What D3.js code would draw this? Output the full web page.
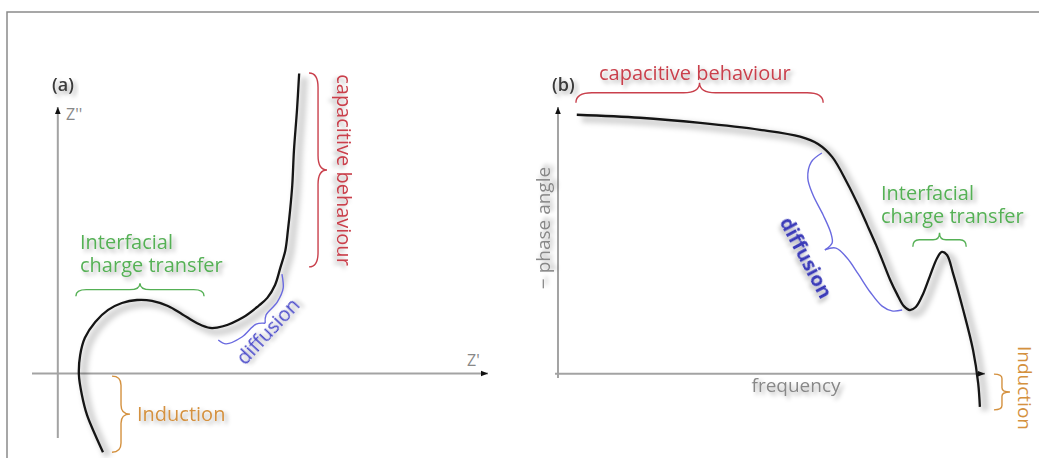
<!DOCTYPE html>
<html>
<head>
<meta charset="utf-8">
<script src="https://cdn.jsdelivr.net/npm/d3@7"></script>
<style>
body{margin:0;background:#fff;}
svg{display:block;}
text{font-family:"Open Sans",sans-serif;}
</style>
</head>
<body>
<script>
var W = 1039, H = 458;

// (a) Nyquist sketch, Z' against Z'' (arbitrary units)
var nyq_re = [1.05,0.87,0.68,0.56,0.49,0.52,0.63,0.87,1.17,1.49,1.84,2.19,2.56,2.89,3.24,3.54,3.84,4.31,4.66,4.87,5.05,5.17,5.29,5.35,5.40,5.45,5.49,5.56,5.61];
var nyq_im = [-1.83,-1.43,-0.97,-0.50,-0.03,0.43,0.83,1.20,1.48,1.64,1.71,1.69,1.57,1.38,1.17,1.06,1.10,1.31,1.57,1.76,2.06,2.45,2.87,3.34,3.80,4.38,5.20,6.13,6.98];

// (b) Bode sketch, frequency against -phase angle (arbitrary units)
var bode_f  = [0.44,1.92,3.33,4.73,5.67,6.09,6.42,6.77,7.03,7.24,7.45,7.61,7.78,7.94,8.10,8.24,8.38,8.53,8.71,8.88,8.99,9.11,9.25,9.49,9.72,9.84,9.88];
var bode_ph = [6.02,5.95,5.83,5.67,5.51,5.34,5.04,4.44,3.92,3.46,2.99,2.60,2.18,1.85,1.57,1.48,1.55,1.81,2.27,2.69,2.83,2.76,2.34,1.48,0.55,-0.22,-0.77];

// region braces, [start, end] in data units
var braceA_transfer   = [[0.42,1.80],[3.40,1.80]];
var braceA_capacitive = [[5.84,6.99],[5.84,2.48]];
var braceA_induction  = [[1.26,-0.06],[1.26,-1.83]];
var braceB_capacitive = [[0.42,6.30],[6.21,6.30]];
var braceB_transfer   = [[8.31,2.95],[9.56,2.95]];
var braceB_induction  = [[10.21,-0.01],[10.21,-0.84]];

// bent diffusion braces, two arms meeting at the tip
var diffA_arm1 = [[3.73,0.78],[3.91,0.69],[4.28,0.85],[4.61,1.15],[4.82,1.17]];
var diffA_arm2 = [[4.82,1.17],[4.84,1.36],[5.10,1.66],[5.24,1.99],[5.21,2.31]];
var diffB_arm1 = [[6.18,5.13],[5.93,4.92],[5.85,4.55],[5.97,4.16],[6.21,3.69],[6.39,3.27],[6.42,3.04],[6.25,2.88]];
var diffB_arm2 = [[6.25,2.88],[6.51,2.92],[6.77,2.69],[7.03,2.32],[7.31,1.90],[7.59,1.57],[7.82,1.46],[8.06,1.48]];

var RED = "#c9404c", GREEN = "#55b055", BLUE = "#4848c8", ORANGE = "#d4913f";

var svg = d3.select("body").append("svg").attr("width", W).attr("height", H);
var defs = svg.append("defs");

var fs = defs.append("filter").attr("id","tshadow")
	.attr("x","-10%").attr("y","-40%").attr("width","130%").attr("height","190%");
fs.append("feDropShadow").attr("dx",3).attr("dy",3).attr("stdDeviation",2.2)
	.attr("flood-color","#000").attr("flood-opacity",0.32);
defs.append("filter").attr("id","blur").append("feGaussianBlur").attr("stdDeviation",2.5);
defs.append("marker").attr("id","arrow")
	.attr("viewBox","0 0 10 10").attr("refX",10).attr("refY",5)
	.attr("markerWidth",7).attr("markerHeight",7)
	.attr("markerUnits","userSpaceOnUse").attr("orient","auto")
	.append("path").attr("d","M0,1L10,5L0,9z").attr("fill","#111");

// outer frame
svg.append("path").attr("d","M7,458V12H1039")
	.attr("fill","none").attr("stroke","#8a8a8a").attr("stroke-width",1.5);

var xA = d3.scaleLinear().domain([-0.6,10]).range([32,488]);
var yA = d3.scaleLinear().domain([-1.5,6.2]).range([438,107]);
var xB = d3.scaleLinear().domain([-0.07,10]).range([555,985]);
var yB = d3.scaleLinear().domain([-0.1,6.2]).range([378,107]);

function drawAxes(g, x, y){
	g.append("line")
		.attr("x1",x.range()[0]).attr("x2",x.range()[1])
		.attr("y1",y(0)).attr("y2",y(0))
		.attr("stroke","#a3a3a3").attr("stroke-width",2)
		.attr("marker-end","url(#arrow)");
	g.append("line")
		.attr("x1",x(0)).attr("x2",x(0))
		.attr("y1",y.range()[0]).attr("y2",y.range()[1])
		.attr("stroke","#a3a3a3").attr("stroke-width",2)
		.attr("marker-end","url(#arrow)");
}

function drawCurve(g, pts, x, y){
	var line = d3.line()
		.x(function(d){return x(d[0])})
		.y(function(d){return y(d[1])})
		.curve(d3.curveCatmullRom.alpha(0.5));
	g.append("path").attr("d",line(pts))
		.attr("transform","translate(5,4)")
		.attr("fill","none").attr("stroke","#000").attr("stroke-opacity",0.16)
		.attr("stroke-width",8).attr("filter","url(#blur)");
	g.append("path").attr("d",line(pts))
		.attr("fill","none").attr("stroke","#151515").attr("stroke-width",2.3)
		.attr("stroke-linejoin","round");
}

// curly brace between two points, tip on the left of p1->p2, w px deep
function bracePath(p1, p2, w){
	var dx = p2[0]-p1[0], dy = p2[1]-p1[1],
		L = Math.sqrt(dx*dx+dy*dy),
		ux = dx/L, uy = dy/L, nx = uy, ny = -ux,
		h = w/2, r = Math.min(w*0.8, L*0.12);
	function at(s,o){ return (p1[0]+ux*s+nx*o) + "," + (p1[1]+uy*s+ny*o); }
	return "M" + at(0,0) + "Q" + at(0,h) + " " + at(r,h) +
		"L" + at(L/2-r,h) + "Q" + at(L/2,h) + " " + at(L/2,w) +
		"Q" + at(L/2,h) + " " + at(L/2+r,h) +
		"L" + at(L-r,h) + "Q" + at(L,h) + " " + at(L,0);
}

function drawBrace(g, ends, x, y, w, col){
	var p1 = [x(ends[0][0]), y(ends[0][1])], p2 = [x(ends[1][0]), y(ends[1][1])];
	g.append("path").attr("d",bracePath(p1,p2,w))
		.attr("fill","none").attr("stroke",col).attr("stroke-width",1.4);
}

function drawBentBrace(g, arms, x, y, col){
	var line = d3.line()
		.x(function(d){return x(d[0])})
		.y(function(d){return y(d[1])})
		.curve(d3.curveCatmullRom.alpha(0.5));
	arms.forEach(function(a){
		g.append("path").attr("d",line(a))
			.attr("fill","none").attr("stroke",col).attr("stroke-width",1.4);
	});
}

function label(g, txt, x, y, o){
	o = o || {};
	var t = g.append("text")
		.attr("transform","translate(" + x + "," + y + ") rotate(" + (o.rot||0) + ")")
		.attr("text-anchor",o.anchor||"start")
		.attr("font-size",o.size||20)
		.attr("font-weight",o.weight||"normal")
		.attr("fill",o.col||"#333")
		.text(txt);
	if(o.shadow!==false) t.attr("filter","url(#tshadow)");
	return t;
}

// ---------- panel (a) ----------
var ga = svg.append("g");
drawAxes(ga, xA, yA);
drawCurve(ga, d3.zip(nyq_re, nyq_im), xA, yA);
drawBrace(ga, braceA_transfer, xA, yA, 13, GREEN);
drawBrace(ga, braceA_capacitive, xA, yA, 18, RED);
drawBrace(ga, braceA_induction, xA, yA, 18, ORANGE);
drawBentBrace(ga, [diffA_arm1, diffA_arm2], xA, yA, "#6a6ae0");

label(ga, "(a)", 52, 91, {size:18, weight:600, col:"#3a3a3a"});
label(ga, "Z''", 66, 120, {size:16, col:"#888", shadow:false});
label(ga, "Z'", 467, 366, {size:16, col:"#888", shadow:false});
label(ga, "Interfacial", 80, 249, {col:GREEN});
label(ga, "charge transfer", 80, 272, {col:GREEN});
label(ga, "capacitive behaviour", 337, 170, {col:RED, rot:90, anchor:"middle"});
label(ga, "diffusion", 273, 336, {col:BLUE, rot:-47, anchor:"middle"});
label(ga, "Induction", 137, 421, {col:ORANGE});

// ---------- panel (b) ----------
var gb = svg.append("g");
drawAxes(gb, xB, yB);
drawCurve(gb, d3.zip(bode_f, bode_ph), xB, yB);
drawBrace(gb, braceB_capacitive, xB, yB, 20, RED);
drawBrace(gb, braceB_transfer, xB, yB, 14, GREEN);
drawBrace(gb, braceB_induction, xB, yB, 16, ORANGE);
drawBentBrace(gb, [diffB_arm1, diffB_arm2], xB, yB, "#6a6ae0");

label(gb, "(b)", 552, 91, {size:18, weight:600, col:"#3a3a3a"});
label(gb, "\u2212 phase angle", 550, 228, {size:19, col:"#888", rot:-90, anchor:"middle"});
label(gb, "frequency", 796, 392, {size:19, col:"#888", anchor:"middle"});
label(gb, "capacitive behaviour", 599, 80, {col:RED});
label(gb, "diffusion", 800, 261, {col:"#3a3ab8", rot:62, anchor:"middle", weight:"bold"});
label(gb, "Interfacial", 881, 200, {col:GREEN});
label(gb, "charge transfer", 881, 223, {col:GREEN});
label(gb, "Induction", 1018, 388, {size:19, col:ORANGE, rot:90, anchor:"middle", shadow:false});
</script>
</body>
</html>
